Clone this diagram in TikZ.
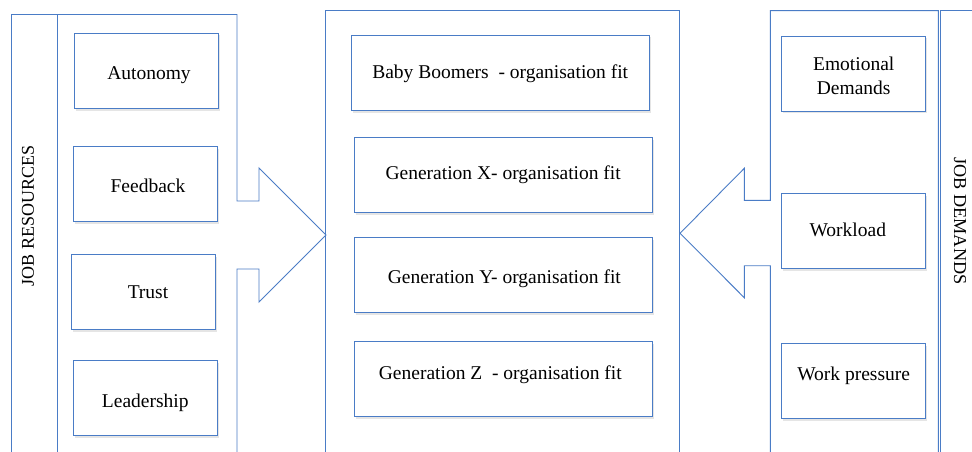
\documentclass[tikz,border=0pt]{standalone}
\usepackage{fontspec}
\setmainfont{Liberation Serif}
\usetikzlibrary{shadows}
\definecolor{lineblue}{RGB}{74,124,198}
\tikzset{
  frame/.style={draw=lineblue, line width=0.9pt, line join=miter},
  itembox/.style={draw=lineblue, line width=0.9pt, fill=white, inner sep=0pt,
    minimum width=144pt, minimum height=75pt,
    text height=13.4pt, text depth=0pt,
    font=\fontsize{19.5}{24}\selectfont,
    drop shadow={opacity=0.2, shadow xshift=1.5pt, shadow yshift=-2pt}},
  genbox/.style={itembox, minimum width=298pt},
  sidelabel/.style={inner sep=0pt}
}
\newcommand{\placed}[2]{\raisebox{#1}{#2}}
\begin{document}
\begin{tikzpicture}[x=1pt,y=-1pt]
\useasboundingbox (0,0) rectangle (972,452);
\clip (0,0) rectangle (972,452);
\fill[white] (0,0) rectangle (972,452);

% left strip and arrow
\draw[frame] (11,465) -- (11,14.5) -- (57,14.5) -- (57,465);
\draw[frame] (57,14.5) -- (237,14.5) -- (237,201) -- (259,201) -- (259,168)
  -- (326,235) -- (259,302) -- (259,269) -- (237,269) -- (237,465);
\node[sidelabel, rotate=90, font=\fontsize{18}{20}\selectfont] (jr) at (28,216) {JOB RESOURCES};

% centre frame
\draw[frame] (325.3,465) -- (325.3,10.7) -- (679.7,10.7) -- (679.7,465);

% right arrow and strip
\draw[frame] (938.3,465) -- (938.3,10.7) -- (770.3,10.7) -- (770.3,200.3)
  -- (744.3,200.3) -- (744.3,168.3) -- (680,233.3) -- (744.3,297.7)
  -- (744.3,265.7) -- (770.3,265.7) -- (770.3,465);
\draw[frame] (940,465) -- (940,10.7) -- (980,10.7);
\node[sidelabel, rotate=-90, font=\fontsize{18.2}{20}\selectfont] (jd) at (960,221) {JOB DEMANDS};

% left items
\node[itembox] (auto) at (146.3,71) {\hspace*{5.4pt}\placed{-1.3pt}{Autonomy}};
\node[itembox] (feed) at (145.3,184) {\hspace*{5.4pt}\placed{-2pt}{Feedback}};
\node[itembox] (trust) at (143.7,292.2) {\hspace*{8.6pt}\placed{0.6pt}{Trust}};
\node[itembox] (lead) at (145.3,398) {\placed{-2.6pt}{Leadership}};

% centre items
\node[genbox] (bb) at (500.2,73) {\placed{1.4pt}{Baby Boomers\ \ - organisation fit}};
\node[genbox] (gx) at (503.2,175.2) {\placed{2.6pt}{Generation X- organisation fit}};
\node[genbox] (gy) at (503.2,275.4) {\hspace*{2.2pt}\placed{-1.6pt}{Generation Y- organisation fit}};
\node[genbox] (gz) at (503.2,379.4) {\placed{7.1pt}{Generation Z\ \ - organisation fit}\hspace*{5.8pt}};

% right items
\node[itembox] (emo) at (853.7,73.8) {\placed{9.8pt}{\makebox[0pt]{Emotional}}\placed{-13.8pt}{\makebox[0pt]{Demands}}};
\node[itembox] (work) at (853.7,231.4) {\placed{2.1pt}{Workload}\hspace*{11.8pt}};
\node[itembox] (press) at (853.7,381.2) {\placed{7.9pt}{Work pressure}};
\end{tikzpicture}
\end{document}
